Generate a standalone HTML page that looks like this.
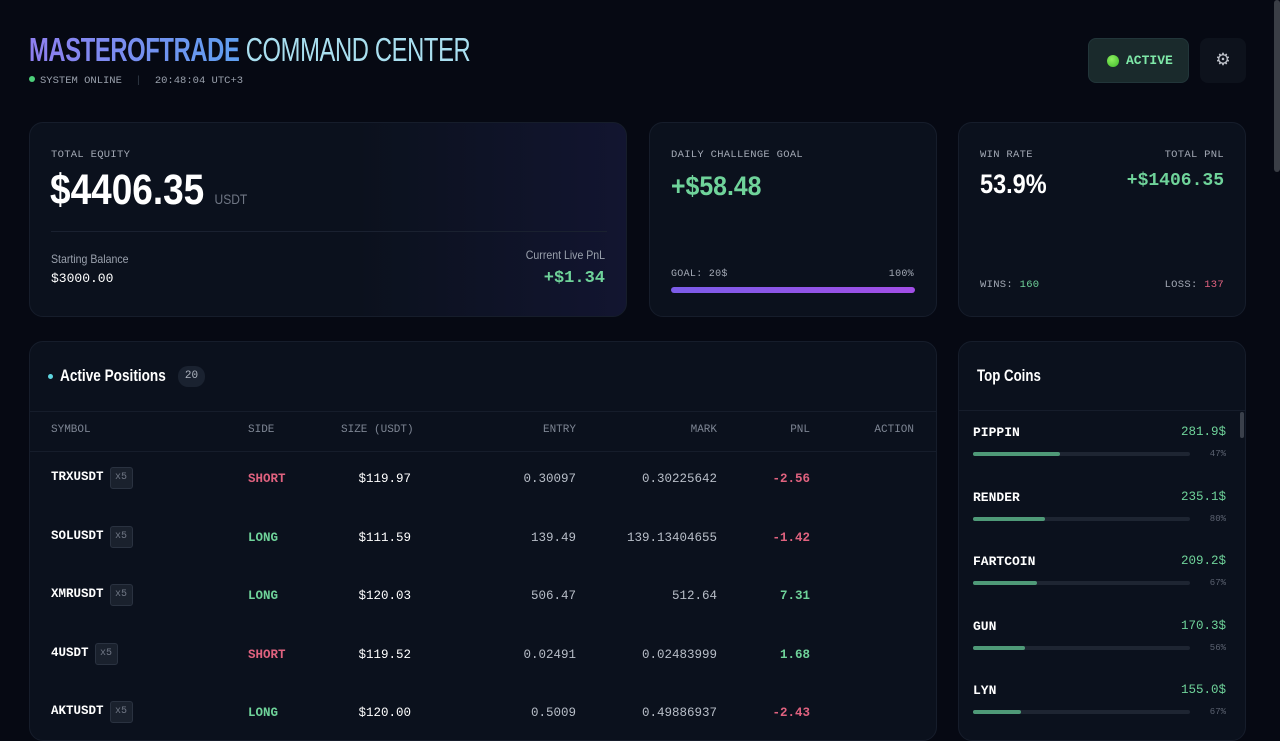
<!DOCTYPE html>
<html><head><meta charset="utf-8"><style>
*{margin:0;padding:0;box-sizing:border-box}
body{width:1280px;height:720px;overflow:hidden;background:#060913;font-family:"Liberation Sans Narrow","Liberation Sans",sans-serif;color:#e8ecf2;position:relative}
.a{position:absolute;white-space:nowrap}
.mono{font-family:"Liberation Mono",monospace}
.card{position:absolute;background:#0b111d;border:1px solid #161d2b;border-radius:14px}
.lbl{font-family:"Liberation Mono",monospace;font-size:10.5px;letter-spacing:0.3px;color:#a3a9b5}
.g{color:#6fd39a}.r{color:#e0627f}
.th{font-family:"Liberation Mono",monospace;font-size:11px;color:#7d8593;top:424px}
.cell{font-family:"Liberation Mono",monospace;font-size:12.5px}
.sl{transform-origin:left center}
.sr{transform-origin:right center}
</style></head><body>
<div class="a sl" style="left:29px;top:31px;font-size:33px;letter-spacing:-0.5px;transform:scaleX(0.72)"><b style="background:linear-gradient(90deg,#8f7ff0,#5f9ff0);-webkit-background-clip:text;color:transparent">MASTEROFTRADE</b> <span style="color:#a9dff0">COMMAND CENTER</span></div>
<div class="a mono" style="left:29px;top:75px;font-size:10.5px;color:#9aa1ad"><span style="display:inline-block;width:6px;height:6px;border-radius:50%;background:#4ccf7a;margin-right:5px;vertical-align:1px"></span>SYSTEM ONLINE <span style="color:#333b48;margin:0 7px">|</span> 20:48:04 UTC+3</div>
<div class="a" style="left:1088px;top:38px;width:101px;height:45px;background:#1a2a2c;border:1px solid #22363a;border-radius:8px"><span class="a" style="left:18px;top:16px;width:12px;height:12px;border-radius:50%;background:radial-gradient(circle at 40% 35%,#8ef060,#3db82a)"></span><span class="a mono" style="left:37px;top:14px;font-size:13px;color:#7ee8a8;font-weight:bold">ACTIVE</span></div>
<div class="a" style="left:1200px;top:38px;width:46px;height:45px;background:#0d121c;border-radius:8px;text-align:center;line-height:44px;font-size:17px;color:#c0c4cc">⚙</div>
<div class="a" style="left:1274px;top:0;width:6px;height:172px;background:#3a3e46;border-radius:3px"></div>

<div class="card" style="left:29px;top:122px;width:598px;height:195px;background:linear-gradient(90deg,#0b111d 55%,#121530)">
<div class="a lbl" style="left:21px;top:26px">TOTAL EQUITY</div>
<div class="a sl" style="left:20px;top:43px;font-size:43px;font-weight:bold;color:#fff;transform:scaleX(0.86)">$4406.35 <span style="font-size:14px;font-weight:normal;color:#6f7684">USDT</span></div>
<div class="a" style="left:21px;top:108px;width:556px;height:1px;background:#1a2130"></div>
<div class="a sl" style="left:21px;top:129px;font-size:12px;color:#9aa1ad;transform:scaleX(0.88)">Starting Balance</div>
<div class="a mono" style="left:21px;top:148px;font-size:13px;color:#fff">$3000.00</div>
<div class="a sr" style="right:21px;top:125px;font-size:12px;color:#9aa1ad;transform:scaleX(0.88)">Current Live PnL</div>
<div class="a mono g" style="right:21px;top:146px;font-size:17px;font-weight:bold">+$1.34</div>
</div>

<div class="card" style="left:649px;top:122px;width:288px;height:195px">
<div class="a lbl" style="left:21px;top:26px">DAILY CHALLENGE GOAL</div>
<div class="a g sl" style="left:21px;top:48px;font-size:27px;font-weight:bold;transform:scaleX(0.92)">+$58.48</div>
<div class="a lbl" style="left:21px;top:146px;font-size:10px">GOAL: 20$</div>
<div class="a lbl" style="right:22px;top:146px;font-size:10px">100%</div>
<div class="a" style="left:21px;top:164px;width:244px;height:6px;border-radius:3px;background:linear-gradient(90deg,#7b5ce8,#a24ee6)"></div>
</div>

<div class="card" style="left:958px;top:122px;width:288px;height:195px">
<div class="a lbl" style="left:21px;top:26px">WIN RATE</div>
<div class="a lbl" style="right:21px;top:26px">TOTAL PNL</div>
<div class="a sl" style="left:21px;top:46px;font-size:27px;font-weight:bold;color:#fff;transform:scaleX(0.87)">53.9%</div>
<div class="a mono g" style="right:21px;top:48px;font-size:18px;font-weight:bold">+$1406.35</div>
<div class="a lbl" style="left:21px;top:156px;font-size:10.5px">WINS: <span class="g">160</span></div>
<div class="a lbl" style="right:21px;top:156px;font-size:10.5px">LOSS: <span class="r">137</span></div>
</div>

<div class="card" style="left:29px;top:341px;width:908px;height:400px;overflow:hidden">
<span class="a" style="left:18px;top:32px;width:5px;height:5px;border-radius:50%;background:#5fd6e0"></span>
<div class="a sl" style="left:30px;top:24px;font-size:17px;font-weight:bold;color:#fff;transform:scaleX(0.8)">Active Positions</div>
<div class="a mono" style="left:148px;top:24px;width:27px;height:21px;border-radius:10px;background:#1a2230;font-size:11px;line-height:21px;text-align:center;color:#aeb4bf">20</div>
<div class="a" style="left:0;top:69px;width:908px;height:1px;background:#161d2b"></div>
<div class="a" style="left:0;top:109px;width:908px;height:1px;background:#161d2b"></div>
</div>
<div id="tbl"></div>

<div class="card" style="left:958px;top:341px;width:288px;height:400px;overflow:hidden">
<div class="a sl" style="left:18px;top:24px;font-size:17px;font-weight:bold;color:#fff;transform:scaleX(0.78)">Top Coins</div>
<div class="a" style="left:0;top:68px;width:288px;height:1px;background:#161d2b"></div>
<div class="a" style="left:281px;top:70px;width:4px;height:26px;background:#3a404b;border-radius:2px"></div>
</div>
<div id="coins"></div>

<script>
const symbols=["TRXUSDT","SOLUSDT","XMRUSDT","4USDT","AKTUSDT"];
const sides=["SHORT","LONG","LONG","SHORT","LONG"];
const sizes=["$119.97","$111.59","$120.03","$119.52","$120.00"];
const entries=["0.30097","139.49","506.47","0.02491","0.5009"];
const marks=["0.30225642","139.13404655","512.64","0.02483999","0.49886937"];
const pnls=[-2.56,-1.42,7.31,1.68,-2.43];
const coinNames=["PIPPIN","RENDER","FARTCOIN","GUN","LYN"];
const coinValues=[281.9,235.1,209.2,170.3,155.0];
const coinPcts=[47,80,67,56,67];

function mk(parent,cls,style,text){const d=document.createElement('div');d.className='a '+cls;d.style.cssText=style;if(text!==undefined)d.textContent=text;parent.appendChild(d);return d;}
const heads=[["SYMBOL","left:51px"],["SIDE","left:248px"],["SIZE (USDT)","left:341px"],["ENTRY","right:704px"],["MARK","right:563px"],["PNL","right:470px"],["ACTION","right:366px"]];
const T=document.getElementById('tbl');
heads.forEach(h=>{const e=mk(T,'th',h[1],h[0]);

});
symbols.forEach((s,i)=>{
 const y=470+i*58.5;
 const row=mk(T,'', 'left:29px;top:'+(y-21)+'px;width:908px;height:58px');
 
 
 const sym=mk(T,'cell','left:51px;top:'+y+'px;font-weight:bold;color:#fff;font-size:12.5px',s);
 
 
 const w=s.length*7.5;
 const lev=mk(T,'cell','left:'+(51+w+6)+'px;top:'+(y-3)+'px;width:23px;height:22px;border:1px solid #2a3240;background:#1a212d;border-radius:3px;font-size:10px;color:#6f7684;text-align:center;line-height:20px','x5');
 
 
 const sd=mk(T,'cell '+(sides[i]=='LONG'?'g':'r'),'left:248px;top:'+(y+2)+'px;font-weight:bold',sides[i]);
 
 
 const sz=mk(T,'cell','right:869px;top:'+(y+2)+'px;color:#fff',sizes[i]);
 
 
 const en=mk(T,'cell','right:704px;top:'+(y+2)+'px;color:#b8bec8',entries[i]);
 
 
 const mkk=mk(T,'cell','right:563px;top:'+(y+2)+'px;color:#b8bec8',marks[i]);
 
 
 const p=mk(T,'cell '+(pnls[i]<0?'r':'g'),'right:470px;top:'+(y+2)+'px;font-weight:bold',pnls[i].toFixed(2));
 
 
});
const C=document.getElementById('coins');
const maxScale=705, trackW=217;
coinNames.forEach((n,i)=>{
 const y=425+i*64.5;
 const nm=mk(C,'cell','left:973px;top:'+y+'px;font-weight:bold;color:#fff;font-size:13px',n);
 
 
 const v=mk(C,'cell g','right:54px;top:'+y+'px;font-size:12.5px',coinValues[i].toFixed(1)+'$');
 
 
 const tr=mk(C,'','left:973px;top:'+(y+27)+'px;width:'+trackW+'px;height:4px;border-radius:2px;background:#1e2532');
 
 
 const f=mk(C,'','left:973px;top:'+(y+27)+'px;width:'+(coinValues[i]/maxScale*trackW)+'px;height:4px;border-radius:2px;background:#4f9a78');
 
 
 const pc=mk(C,'mono','right:54px;top:'+(y+24)+'px;font-size:9px;color:#5b6270',coinPcts[i]+'%');
 
 
});
</script>
</body></html>
